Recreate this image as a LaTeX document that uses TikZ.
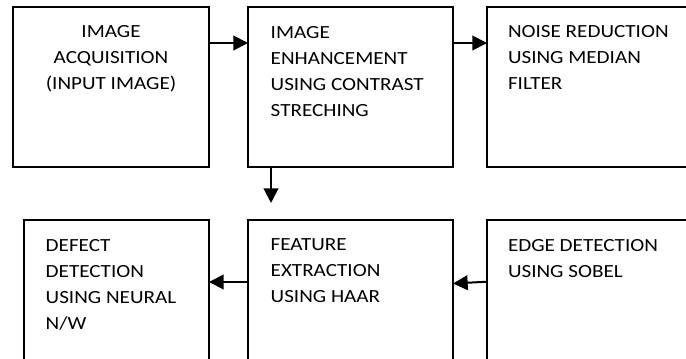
\documentclass[tikz,border=0pt]{standalone}
\usepackage{fontspec}
\setmainfont{Carlito}[FakeStretch=1.14]
\usetikzlibrary{arrows.meta,calc}
\begin{document}
\begin{tikzpicture}[x=0.75pt,y=-0.75pt,
  box/.style={draw, line width=1.5pt, rectangle, inner sep=0pt, outer sep=0pt, anchor=north west, minimum height=120pt},
  txt/.style={font=\fontsize{13.9pt}{19.5pt}\selectfont, inner sep=0pt, outer sep=0pt},
  arr/.style={line width=1.5pt, -{Triangle[length=11pt,width=11pt]}}]
\useasboundingbox (0,0) rectangle (686,358);
\clip (0,0) rectangle (686,358);
\node[box, minimum width=147pt] (b1) at (13,7) {};
\node[box, minimum width=153.75pt] (b2) at (248,7) {};
\node[box, minimum width=160pt] (b3) at (487,7) {};
\node[box, minimum width=138.75pt] (b4) at (24,220) {};
\node[box, minimum width=153.75pt] (b5) at (248,220) {};
\node[box, minimum width=160pt] (b6) at (487,220) {};
\node[txt, align=center, anchor=north] (t1) at (111,25.6) {IMAGE\\ACQUISITION\\(INPUT IMAGE)};
\node[txt, align=left, anchor=north west] (t2) at (270.7,26) {IMAGE\\ENHANCEMENT\\USING CONTRAST\\STRECHING};
\node[txt, align=left, anchor=north west] (t3) at (508,25) {NOISE REDUCTION\\USING MEDIAN\\FILTER};
\node[txt, align=left, anchor=north west] (t4) at (45.7,239.3) {DEFECT\\DETECTION\\USING NEURAL\\N/W};
\node[txt, align=left, anchor=north west] (t5) at (270.7,239) {FEATURE\\EXTRACTION\\USING HAAR};
\node[txt, align=left, anchor=north west] (t6) at (508,239.3) {EDGE DETECTION\\USING SOBEL};
\draw[arr] ($(b1.north east)+(0,36)$) -- ($(b2.north west)+(0,36)$);
\draw[arr] ($(b2.north east)+(0,36)$) -- ($(b3.north west)+(0,36)$);
\draw[arr] ($(b2.south west)+(23,0)$) -- ($(b5.north west)+(23,-17)$);
\draw[arr] ($(b5.north west)+(0,62)$) -- ($(b4.north east)+(0,62)$);
\draw[arr] ($(b6.north west)+(0,61.7)$) -- ($(b5.north east)+(0,63.5)$);
\end{tikzpicture}
\end{document}
